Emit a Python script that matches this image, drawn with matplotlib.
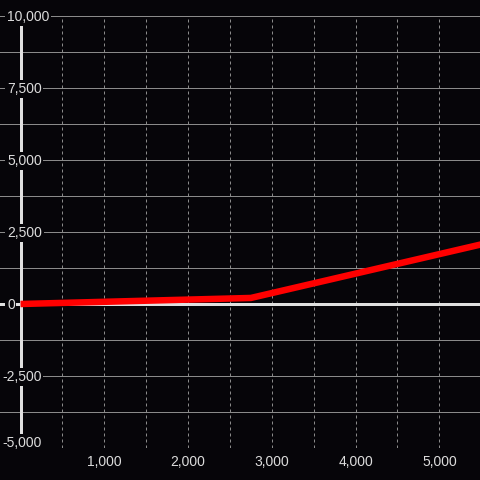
import matplotlib
matplotlib.use("Agg")
import matplotlib.pyplot as plt
from matplotlib.transforms import blended_transform_factory, offset_copy

# ---- data ----
x_values = [0, 2750, 5500]
y_values = [0, 210, 2070]

x_tick_values = [1000, 2000, 3000, 4000, 5000]
y_tick_values = [-5000, -2500, 0, 2500, 5000, 7500, 10000]
y_grid_values = [-5000, -3750, -2500, -1250, 0, 1250, 2500, 3750, 5000,
                 6250, 7500, 8750, 10000]
x_grid_values = [500, 1000, 1500, 2000, 2500, 3000, 3500, 4000, 4500, 5000]

# ---- style ----
BG = "#060509"
GRID = "#8a8a8a"
TXT = "#dcdcdc"
AXIS = "#e0e0e0"
RED = "#ff0000"
plt.rcParams["font.family"] = ["Liberation Sans", "DejaVu Sans"]

fig = plt.figure(figsize=(4.8, 4.8), dpi=100, facecolor=BG)
ax = fig.add_axes([0, 32 / 480, 1, 432 / 480])
ax.set_facecolor(BG)
ax.set_xlim(-245, 5485)
ax.set_ylim(-5000, 10000)
ax.axis("off")

px = 72 / 100  # one pixel in points

for v in y_grid_values:
    ax.axhline(v, color=GRID, lw=1 * px, zorder=1)
for v in x_grid_values:
    ax.axvline(v, color=GRID, lw=1 * px, ls=(0, (3, 3)), zorder=1)

# axis lines
ax.axvline(0, color=AXIS, lw=3 * px, zorder=3)
ax.axhline(0, color=AXIS, lw=3 * px, zorder=3)

# series
ax.plot(x_values, y_values, color=RED, lw=6.5 * px, zorder=4,
        solid_capstyle="butt", solid_joinstyle="round")

# y labels (with background box that hides grid and axis line)
ytrans = blended_transform_factory(ax.transAxes, ax.transData)
fs = 10
for v in y_tick_values:
    s = f"{v:,.0f}"
    x0 = 7 / 480 if v >= 0 else 2 / 480
    dy = -5 if v != min(y_tick_values) else 1
    tr = offset_copy(ytrans, fig=fig, x=0, y=dy, units="dots")
    ax.text(x0, v, s, transform=tr, ha="left", va="baseline", fontsize=fs,
            color=TXT, zorder=6,
            bbox=dict(boxstyle="square,pad=0.12", fc=BG, ec="none"))

# x labels
xtrans = offset_copy(blended_transform_factory(ax.transData, ax.transAxes),
                     fig=fig, x=0, y=-18, units="dots")
for v in x_tick_values:
    ax.text(v, 0, f"{v:,.0f}", transform=xtrans, ha="center", va="baseline",
            fontsize=fs, color=TXT, zorder=6, clip_on=False)

fig.savefig("out.png", dpi=100, facecolor=BG)
